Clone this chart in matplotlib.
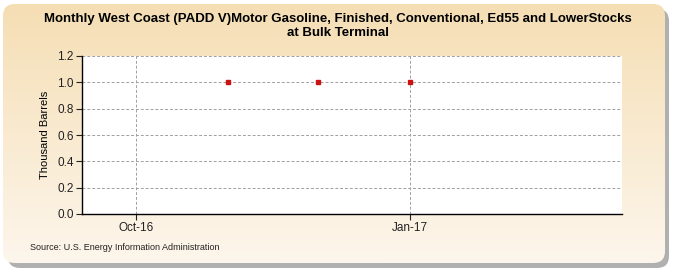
import numpy as np
import matplotlib.pyplot as plt
import matplotlib.dates as mdates
from matplotlib.patches import FancyBboxPatch
from datetime import date

# data
months = [date(2016, 11, 1), date(2016, 12, 1), date(2017, 1, 1)]
stocks = [1.0, 1.0, 1.0]
tick_dates = [date(2016, 10, 1), date(2017, 1, 1)]
tick_labels = ['Oct-16', 'Jan-17']
y_ticks = [0.0, 0.2, 0.4, 0.6, 0.8, 1.0, 1.2]

title = ('Monthly West Coast (PADD V)Motor Gasoline, Finished, Conventional, Ed55 and LowerStocks\n'
         'at Bulk Terminal')

W, H = 675, 275
fig = plt.figure(figsize=(W / 100, H / 100), dpi=100)
fig.patch.set_facecolor('white')

# background frame with shadow and gradient
bg = fig.add_axes([0, 0, 1, 1])
bg.set_xlim(0, W)
bg.set_ylim(H, 0)
bg.axis('off')
shadow = FancyBboxPatch((8, 9), W - 14, H - 16, boxstyle='round,pad=0,rounding_size=12',
                        facecolor='#b0b0b0', edgecolor='none')
bg.add_patch(shadow)
frame = FancyBboxPatch((3, 4), W - 13, H - 16, boxstyle='round,pad=0,rounding_size=12',
                       facecolor='none', edgecolor='none')
bg.add_patch(frame)
top = np.array([245, 222, 180]) / 255
bottom = np.array([253, 246, 236]) / 255
t = np.linspace(0, 1, 256)[:, None]
grad = top * (1 - t) + bottom * t
grad = np.repeat(grad[:, None, :], 2, axis=1)
im = bg.imshow(grad, extent=[3, W - 10, H - 12, 4], aspect='auto', zorder=1)
im.set_clip_path(frame)

fig.text(338 / W, 1 - 26 / H, title, ha='center', va='center', fontsize=9.5,
         fontweight='bold', family=['Liberation Sans', 'DejaVu Sans'],
         linespacing=1.25)
fig.text(30 / W, 1 - 247 / H, 'Source: U.S. Energy Information Administration',
         fontsize=6.5, family=['Liberation Sans', 'DejaVu Sans'], color='#222222',
         va='center')

# plot area
ax = fig.add_axes([82 / W, 1 - 214 / H, (622 - 82) / W, (214 - 56) / H])
ax.set_facecolor('white')
ax.plot(months, stocks, linestyle='none', marker='s', markersize=3.2,
        color='#cc1111', zorder=3)

ax.set_xlim(date(2016, 9, 13), date(2017, 3, 13))
ax.set_ylim(0, 1.2)
ax.set_yticks(y_ticks)
ax.set_yticklabels([f'{v:.1f}' for v in y_ticks])
ax.set_xticks([mdates.date2num(d) for d in tick_dates])
ax.set_xticklabels(tick_labels)

ax.grid(True, linestyle=(0, (3, 2)), color='#a0a0a0', linewidth=0.7)
ax.set_axisbelow(True)
for side in ['top', 'right']:
    ax.spines[side].set_visible(False)
for side in ['left', 'bottom']:
    ax.spines[side].set_linewidth(1.0)
ax.tick_params(labelsize=8.5, length=4, width=0.8, colors='#222222', pad=2)
for lab in ax.get_xticklabels() + ax.get_yticklabels():
    lab.set_family(['Liberation Sans', 'DejaVu Sans'])
ax.set_ylabel('Thousand Barrels', fontsize=8, family=['Liberation Sans', 'DejaVu Sans'],
              labelpad=5)

fig.savefig('out.png', dpi=100)
